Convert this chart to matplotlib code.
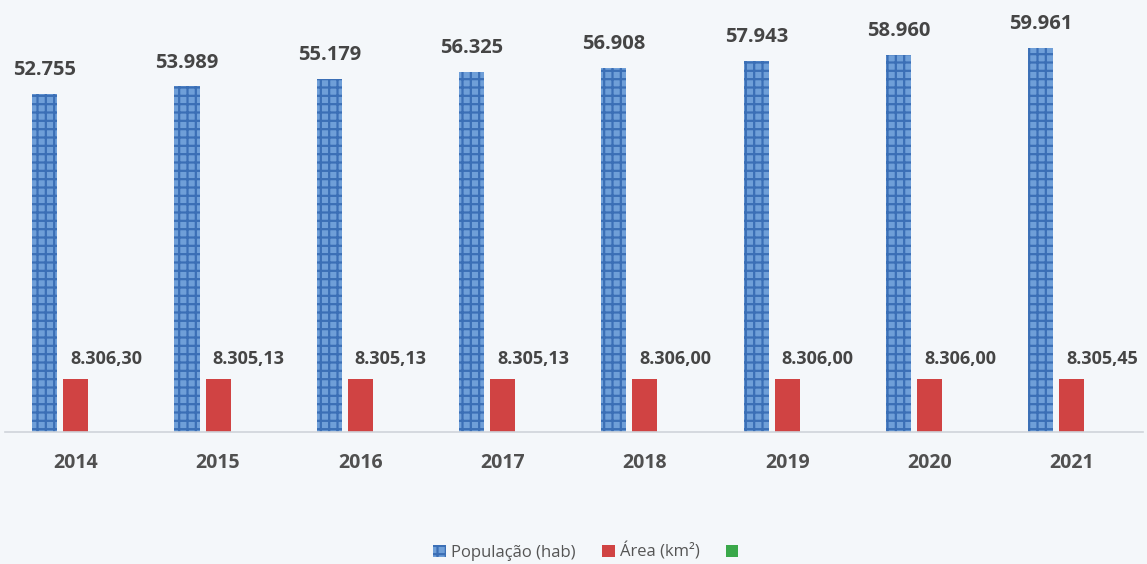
import numpy as np
import matplotlib.pyplot as plt
from matplotlib.patches import Patch

plt.rcParams['font.family'] = ['Open Sans', 'DejaVu Sans']
plt.rcParams['hatch.linewidth'] = 1.6

anos = ['2014', '2015', '2016', '2017', '2018', '2019', '2020', '2021']
populacao = [52755, 53989, 55179, 56325, 56908, 57943, 58960, 59961]
area = [8306.30, 8305.13, 8305.13, 8305.13, 8306.00, 8306.00, 8306.00, 8305.45]
legenda = ['População (hab)', 'Área (km²)', '']

azul = '#6f9fd8'
azul_escuro = '#3b6fb6'
vermelho = '#d04343'
verde = '#3aa84a'
cinza = '#454545'
fundo = '#f4f7fa'


def fmt_pop(v):
    return f'{v:,}'.replace(',', '.')


def fmt_area(v):
    s = f'{v:,.2f}'
    return s.replace(',', 'X').replace('.', ',').replace('X', '.')


fig = plt.figure(figsize=(11.47, 5.64), dpi=100, facecolor=fundo)
ax = fig.add_axes([0.004, 0.234, 0.9925, 0.766])
ax.set_facecolor(fundo)

x = np.arange(len(anos))
w = 0.176
off = 0.218

b1 = ax.bar(x - off, populacao, w, color=azul, edgecolor=azul_escuro,
            hatch='++', linewidth=0)
b2 = ax.bar(x, area, w, color=vermelho, linewidth=0)

for xi, v in zip(x, populacao):
    ax.annotate(fmt_pop(v), (xi - off, v), xytext=(0, 10), textcoords='offset points',
                ha='center', va='bottom', fontsize=14.5, fontweight='bold', color=cinza)
for xi, v in zip(x, area):
    ax.annotate(fmt_area(v), (xi + off * 0.98, v), xytext=(0, 8), textcoords='offset points',
                ha='center', va='bottom', fontsize=13, fontweight='bold', color=cinza,
                annotation_clip=False)

ax.set_xlim(-0.5, len(anos) - 0.5)
ax.set_ylim(0, 67500)
ax.set_xticks(x)
ax.set_xticklabels(anos, fontsize=14, fontweight='bold', color='#505050')
ax.tick_params(axis='x', length=0, pad=15)
ax.set_yticks([])
for s in ['top', 'right', 'left']:
    ax.spines[s].set_visible(False)
ax.spines['bottom'].set_color('#cfd4da')
ax.spines['bottom'].set_linewidth(1.2)

handles = [Patch(facecolor=azul, edgecolor=azul_escuro, hatch='++', linewidth=0),
           Patch(facecolor=vermelho, linewidth=0),
           Patch(facecolor=verde, linewidth=0)]
fig.legend(handles, legenda, loc='center', bbox_to_anchor=(0.513, 0.022), ncol=3,
           frameon=False, fontsize=12, handlelength=0.75, handleheight=0.75,
           handletextpad=0.3, columnspacing=1.6, labelcolor='#555555')

fig.savefig('out.png', dpi=100, facecolor=fundo)
